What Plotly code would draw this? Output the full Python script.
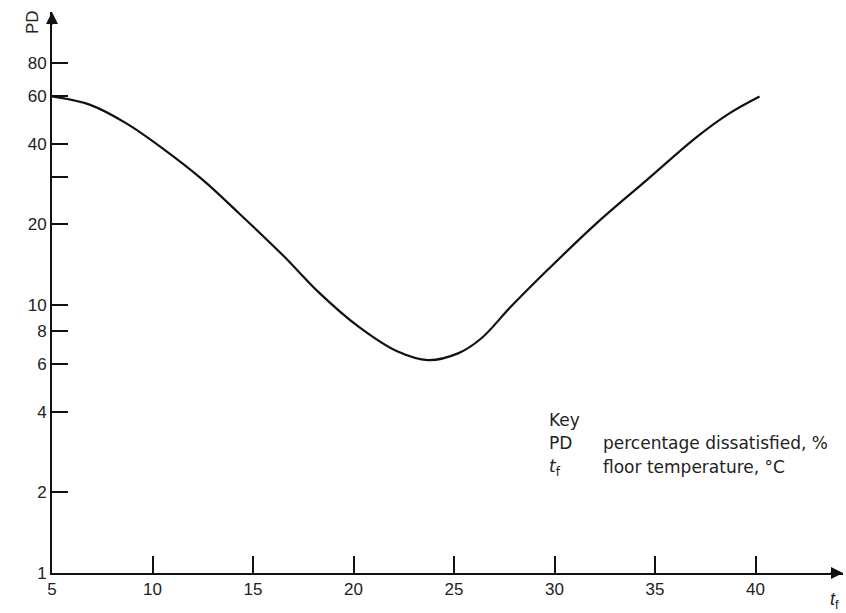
import plotly.graph_objects as go

# Data
floor_temp = [5.0, 6.9, 8.7, 10.5, 12.5, 14.3, 16.5, 18.3, 20.25, 22.2, 23.7, 25.2,
              26.35, 27.8, 29.65, 32.1, 34.6, 37.1, 38.7, 40.2]
pd_values = [60.0, 55.8, 47.6, 38.4, 29.3, 22.0, 15.3, 11.1, 8.3, 6.7, 6.23, 6.6,
             7.5, 9.8, 13.5, 20.2, 29.3, 42.5, 51.9, 60.0]

x_ticks = [5, 10, 15, 20, 25, 30, 35, 40]
y_ticks = [1, 2, 4, 6, 8, 10, 20, 30, 40, 60, 80]
y_tick_text = ["1", "2", "4", "6", "8", "10", "20", "", "40", "60", "80"]

W, H = 846, 613
L, R, T, B = 52, 3, 12, 40
font = dict(family="Liberation Sans, Arial, sans-serif", size=17, color="#222")

fig = go.Figure()
fig.add_trace(go.Scatter(x=floor_temp, y=pd_values, mode="lines",
                         line=dict(color="#111", width=2.2, shape="spline", smoothing=1.0),
                         hoverinfo="skip", showlegend=False))

x_max = 5 + (W - L - R) / 20.1
y_top_log = (H - T - B) / 268.0

fig.update_layout(
    width=W, height=H,
    margin=dict(l=L, r=R, t=T, b=B),
    paper_bgcolor="white", plot_bgcolor="white",
    font=font,
    xaxis=dict(range=[5, x_max], tickvals=x_ticks, ticktext=[str(v) for v in x_ticks],
               ticks="inside", ticklen=17, tickwidth=1.5, tickcolor="#111",
               showline=True, linecolor="#111", linewidth=2, showgrid=False, zeroline=False,
               tickfont=font),
    yaxis=dict(type="log", range=[0, y_top_log], tickvals=y_ticks, ticktext=y_tick_text,
               ticks="inside", ticklen=16, tickwidth=1.5, tickcolor="#111",
               showline=True, linecolor="#111", linewidth=2, showgrid=False, zeroline=False,
               tickfont=font),
)

pw, ph = W - L - R, H - T - B
def px(x):
    return (x - L) / pw
def py(y):
    return (H - B - y) / ph

anns = []
# arrow heads on axes
anns.append(dict(xref="paper", yref="paper", x=1.0, y=0, ax=-14, ay=0, text="",
                 showarrow=True, arrowhead=2, arrowsize=1.2, arrowwidth=2, arrowcolor="#111"))
anns.append(dict(xref="paper", yref="paper", x=0, y=1.0, ax=0, ay=14, text="",
                 showarrow=True, arrowhead=2, arrowsize=1.2, arrowwidth=2, arrowcolor="#111"))
# axis labels
anns.append(dict(xref="paper", yref="paper", x=px(32), y=py(22), text="PD", textangle=-90,
                 showarrow=False, font=font, xanchor="center", yanchor="middle"))
anns.append(dict(xref="paper", yref="paper", x=px(834), y=py(600), text="<i>t</i><sub>f</sub>",
                 showarrow=False, font=dict(family=font["family"], size=18, color="#222"),
                 xanchor="center", yanchor="middle"))
# key
kfont = dict(family="DejaVu Sans, Verdana, sans-serif", size=17, color="#222")
anns.append(dict(xref="paper", yref="paper", x=px(547), y=py(420), text="Key",
                 showarrow=False, font=kfont, xanchor="left", yanchor="middle"))
anns.append(dict(xref="paper", yref="paper", x=px(547), y=py(443), text="PD",
                 showarrow=False, font=kfont, xanchor="left", yanchor="middle"))
anns.append(dict(xref="paper", yref="paper", x=px(547), y=py(467), text="<i>t</i><sub>f</sub>",
                 showarrow=False, font=kfont, xanchor="left", yanchor="middle"))
anns.append(dict(xref="paper", yref="paper", x=px(601), y=py(443), text="percentage dissatisfied, %",
                 showarrow=False, font=kfont, xanchor="left", yanchor="middle"))
anns.append(dict(xref="paper", yref="paper", x=px(601), y=py(467), text="floor temperature, °C",
                 showarrow=False, font=kfont, xanchor="left", yanchor="middle"))
fig.update_layout(annotations=anns)

fig.write_html("out.html")
